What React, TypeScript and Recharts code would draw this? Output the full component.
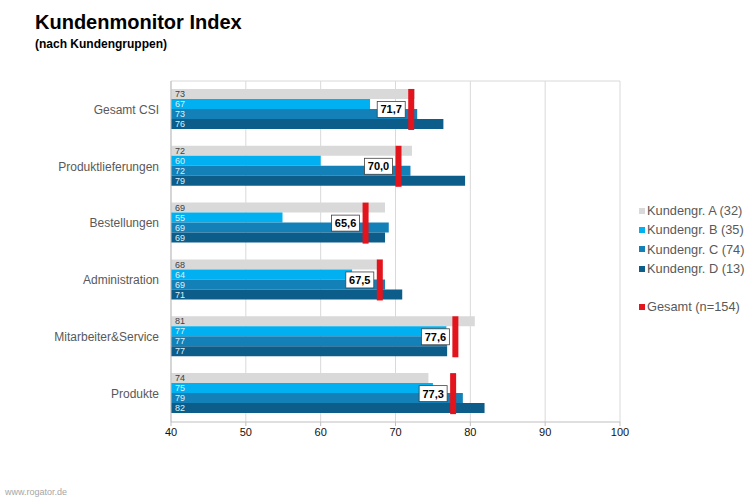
import React from "react"
import { ComposedChart, Bar, XAxis, YAxis, CartesianGrid, LabelList } from "recharts"

document.body.style.margin = "0"

const categories = [
  "Gesamt CSI",
  "Produktlieferungen",
  "Bestellungen",
  "Administration",
  "Mitarbeiter&Service",
  "Produkte",
]

const grpA = [72.6, 72.2, 68.6, 67.6, 80.6, 74.4]
const grpB = [66.6, 60.0, 54.9, 64.2, 76.8, 75.0]
const grpC = [72.9, 72.0, 69.1, 68.6, 76.9, 79.0]
const grpD = [76.4, 79.3, 68.6, 70.9, 76.9, 81.9]
const gesamt = [71.7, 70.0, 65.6, 67.5, 77.6, 77.3]

const xTicks = [40, 50, 60, 70, 80, 90, 100]

const series = [
  { key: "a", name: "Kundengr. A (32)", color: "#d9d9d9", label: "#404040" },
  { key: "b", name: "Kundengr. B (35)", color: "#00b0f0", label: "#d8f1fb" },
  { key: "c", name: "Kundengr. C (74)", color: "#1380b8", label: "#d8f1fb" },
  { key: "d", name: "Kundengr. D (13)", color: "#0c5d89", label: "#d8f1fb" },
]
const totalName = "Gesamt (n=154)"
const totalColor = "#e3141c"

const data = categories.map((name, i) => ({
  name,
  a: grpA[i],
  b: grpB[i],
  c: grpC[i],
  d: grpD[i],
  gesamt: gesamt[i],
}))

const fmt = (v: number) => v.toFixed(1).replace(".", ",")

function TotalMarker(props: any) {
  const { x, y, width, height, value } = props
  const end = x + width
  const v = Array.isArray(value) ? value[1] : value
  const cy = y + height / 2
  return (
    <g>
      <rect x={end - 31} y={cy - 8} width={28} height={16} fill="#fff" stroke="#404040" strokeWidth={0.8} />
      <text x={end - 17} y={cy + 4} textAnchor="middle" fontSize={11} fontWeight="bold" fill="#000">
        {fmt(gesamt[props.index] ?? v)}
      </text>
      <rect x={end} y={y} width={6} height={height} fill={totalColor} />
    </g>
  )
}

export default function App() {
  return (
    <div style={{ position: "relative", width: 756, height: 499, background: "#fff", fontFamily: "'Liberation Sans', Arial, sans-serif" }}>
      <div style={{ position: "absolute", left: 35, top: 11, fontSize: 20, fontWeight: "bold", color: "#000" }}>
        Kundenmonitor Index
      </div>
      <div style={{ position: "absolute", left: 35, top: 37, fontSize: 12, fontWeight: "bold", color: "#000" }}>
        (nach Kundengruppen)
      </div>
      <ComposedChart
        width={756}
        height={499}
        data={data}
        layout="vertical"
        margin={{ top: 81, right: 136, bottom: 47, left: 0 }}
        barGap={0}
        barCategoryGap="14%"
      >
        <CartesianGrid
          stroke="#d9d9d9"
          horizontalCoordinatesGenerator={(p: any) => [p.offset.top]}
        />
        <XAxis
          type="number"
          domain={[40, 100]}
          ticks={xTicks}
          allowDataOverflow
          height={30}
          tick={{ fontSize: 11, fill: "#111" }}
          stroke="#bfbfbf"
          tickSize={4}
        />
        <YAxis
          yAxisId="cat"
          type="category"
          dataKey="name"
          width={171}
          tickLine={false}
          stroke="#bfbfbf"
          tick={{ fontSize: 12, fill: "#595959" }}
          tickMargin={6}
        />
        <YAxis yAxisId="tot" type="category" dataKey="name" hide />
        {series.map((s) => (
          <Bar key={s.key} yAxisId="cat" dataKey={s.key} name={s.name} fill={s.color} isAnimationActive={false}>
            <LabelList
              dataKey={s.key}
              position="insideLeft"
              offset={4}
              formatter={(v: any) => Math.round(Number(v))}
              style={{ fontSize: 9, fill: s.label }}
            />
          </Bar>
        ))}
        <Bar
          yAxisId="tot"
          dataKey="gesamt"
          name={totalName}
          fill={totalColor}
          shape={<TotalMarker />}
          isAnimationActive={false}
        />
      </ComposedChart>
      <div style={{ position: "absolute", left: 639, top: 201, fontSize: 12.8, color: "#595959" }}>
        {series.map((s) => (
          <div key={s.key} style={{ height: 19.3, display: "flex", alignItems: "center" }}>
            <span style={{ display: "inline-block", width: 6, height: 6, background: s.color, marginRight: 2 }} />
            {s.name}
          </div>
        ))}
        <div style={{ height: 19, marginTop: 19, display: "flex", alignItems: "center" }}>
          <span style={{ display: "inline-block", width: 6, height: 6, background: totalColor, marginRight: 2 }} />
          {totalName}
        </div>
      </div>
      <div style={{ position: "absolute", left: 5, top: 487, fontSize: 9, color: "#a6a6a6" }}>www.rogator.de</div>
    </div>
  )
}
